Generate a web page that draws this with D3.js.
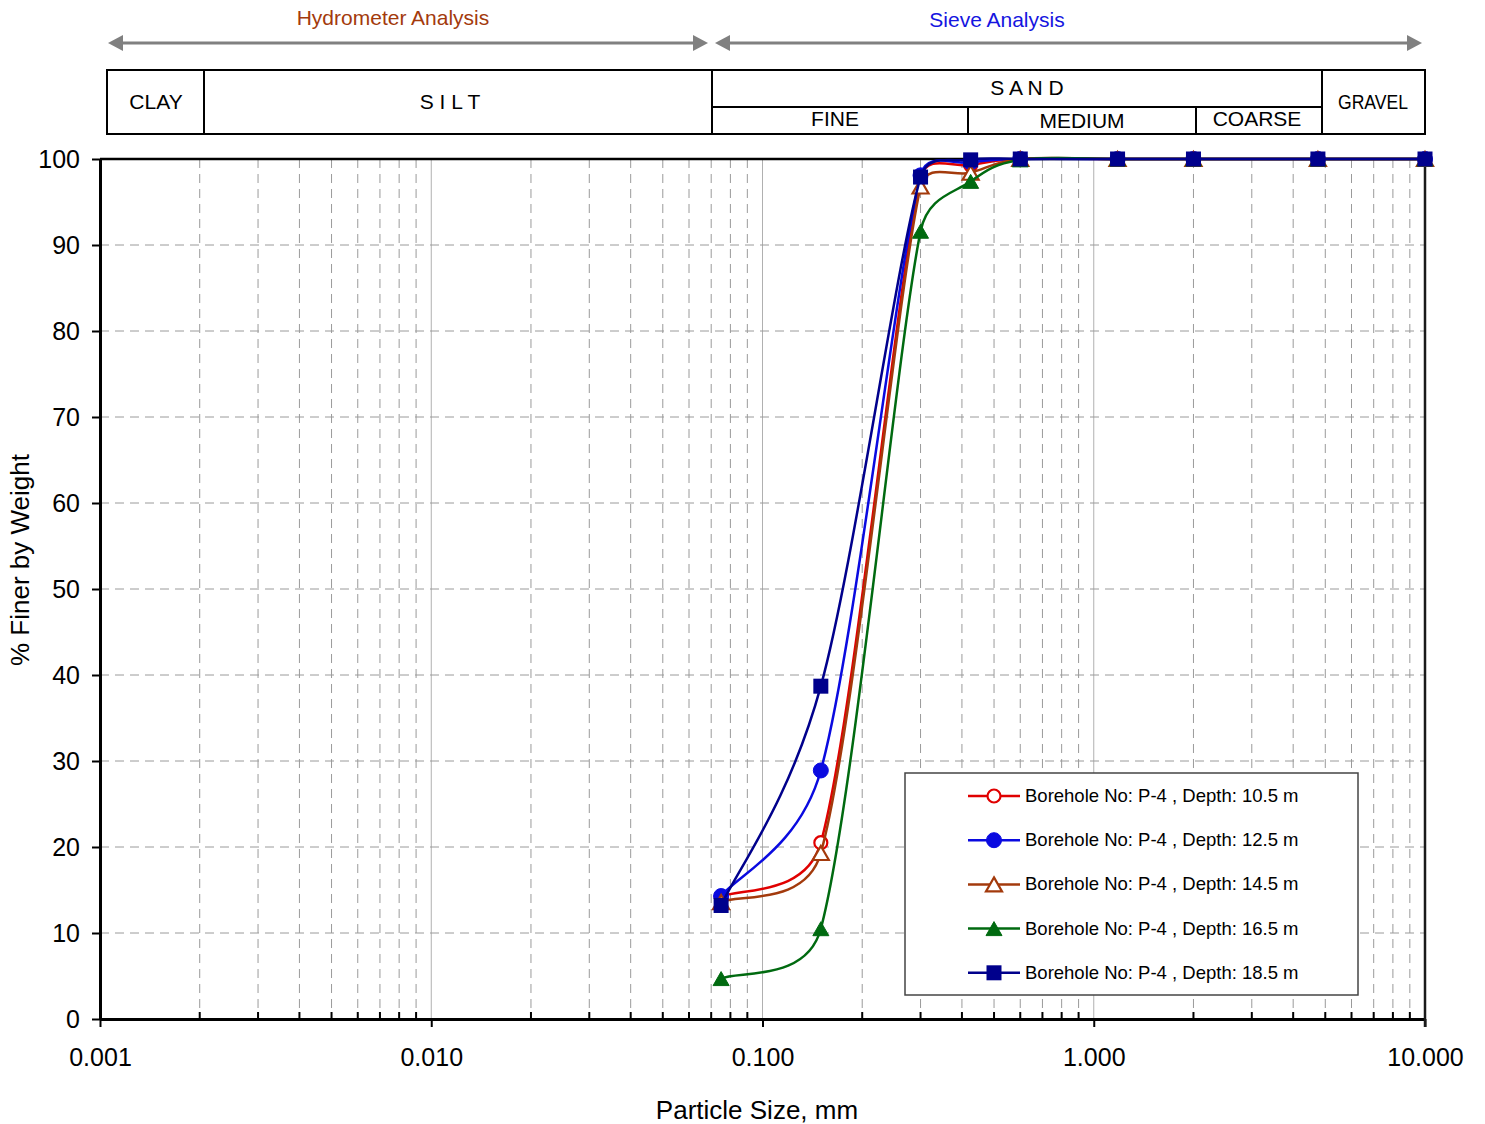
<!DOCTYPE html>
<html><head><meta charset="utf-8">
<script src="https://cdn.jsdelivr.net/npm/d3@7"></script>
<style>
body{margin:0;background:#fff;}
text{font-family:"Liberation Sans",Arial,sans-serif;}
</style></head>
<body><svg id="c" width="1485" height="1124"></svg>
<script>
// ---- data ----
const sizes = [0.075, 0.15, 0.3, 0.425, 0.6, 1.18, 2.0, 4.75, 10.0];
const depth105 = [14.2, 20.5, 97.8, 99.3, 100, 100, 100, 100, 100];
const depth125 = [14.3, 28.9, 98.1, 99.6, 100, 100, 100, 100, 100];
const depth145 = [13.6, 19.3, 96.8, 98.4, 100, 100, 100, 100, 100];
const depth165 = [4.7, 10.5, 91.6, 97.4, 99.9, 100, 100, 100, 100];
const depth185 = [13.2, 38.7, 97.9, 99.9, 100, 100, 100, 100, 100];
const seriesNames = ["Borehole No: P-4 , Depth: 10.5 m","Borehole No: P-4 , Depth: 12.5 m","Borehole No: P-4 , Depth: 14.5 m","Borehole No: P-4 , Depth: 16.5 m","Borehole No: P-4 , Depth: 18.5 m"];
const xTickValues = [0.001, 0.01, 0.1, 1, 10];
const yTickValues = [0,10,20,30,40,50,60,70,80,90,100];

const svg = d3.select("#c");
const M = {l:100, r:1425, t:159, b:1019};
const x = d3.scaleLog().domain([0.001,10]).range([M.l,M.r]);
const y = d3.scaleLinear().domain([0,100]).range([M.b,M.t]);

// ---- grid ----
const minor = [];
for (let e=-3;e<1;e++) for (let k=2;k<=9;k++) minor.push(k*Math.pow(10,e));
const g = svg.append("g");
g.selectAll(".vminor").data(minor).enter().append("line")
  .attr("x1",d=>x(d)).attr("x2",d=>x(d)).attr("y1",M.t).attr("y2",M.b)
  .attr("stroke","#9a9a9a").attr("stroke-width",1).attr("stroke-dasharray","9,6");
g.selectAll(".vmajor").data([0.01,0.1,1]).enter().append("line")
  .attr("x1",d=>x(d)).attr("x2",d=>x(d)).attr("y1",M.t).attr("y2",M.b)
  .attr("stroke","#b0b0b0").attr("stroke-width",1);
g.selectAll(".hgrid").data(yTickValues.slice(1,10)).enter().append("line")
  .attr("x1",M.l).attr("x2",M.r).attr("y1",d=>y(d)).attr("y2",d=>y(d))
  .attr("stroke","#9a9a9a").attr("stroke-width",1).attr("stroke-dasharray","9,6");

// ---- axes ----
const xAxis = d3.axisBottom(x).tickValues(xTickValues).tickFormat(d3.format(".3f")).tickSize(8).tickSizeOuter(0);
const xa = svg.append("g").attr("transform",`translate(0,${M.b})`).call(xAxis);
xa.select(".domain").attr("stroke","#000").attr("stroke-width",3);
xa.selectAll(".tick line").attr("stroke","#000").attr("stroke-width",2);
xa.selectAll(".tick text").attr("font-size",25).attr("fill","#000").attr("dy","1.45em")
  .style("font-family","'Liberation Sans',Arial,sans-serif");
svg.append("g").selectAll("line").data(minor).enter().append("line")
  .attr("x1",d=>x(d)).attr("x2",d=>x(d)).attr("y1",M.b).attr("y2",M.b-7)
  .attr("stroke","#000").attr("stroke-width",2);

const yAxis = d3.axisLeft(y).tickValues(yTickValues).tickSize(8).tickSizeOuter(0).tickPadding(12);
const ya = svg.append("g").attr("transform",`translate(${M.l},0)`).call(yAxis);
ya.select(".domain").attr("stroke","#000").attr("stroke-width",3);
ya.selectAll(".tick line").attr("stroke","#000").attr("stroke-width",2);
ya.selectAll(".tick text").attr("font-size",25).attr("fill","#000")
  .style("font-family","'Liberation Sans',Arial,sans-serif");
svg.append("line").attr("x1",M.l).attr("x2",M.r).attr("y1",M.t).attr("y2",M.t).attr("stroke","#000").attr("stroke-width",2.5);
svg.append("line").attr("x1",M.r).attr("x2",M.r).attr("y1",M.t).attr("y2",M.b+8).attr("stroke","#1a1a1a").attr("stroke-width",2.5);

svg.append("text").attr("x",757).attr("y",1119).attr("text-anchor","middle").attr("font-size",26).text("Particle Size, mm");
svg.append("text").attr("transform","translate(29,560) rotate(-90)").attr("text-anchor","middle").attr("font-size",26).text("% Finer by Weight");

// ---- header ----
const H = svg.append("g");
function arrow(x1,x2,yy){
  H.append("line").attr("x1",x1+12).attr("x2",x2-12).attr("y1",yy).attr("y2",yy).attr("stroke","#808080").attr("stroke-width",3);
  H.append("path").attr("d",`M${x1},${yy}L${x1+15},${yy-8}L${x1+15},${yy+8}Z`).attr("fill","#808080");
  H.append("path").attr("d",`M${x2},${yy}L${x2-15},${yy-8}L${x2-15},${yy+8}Z`).attr("fill","#808080");
}
arrow(108,708,43);
arrow(715,1422,43);
H.append("text").attr("x",393).attr("y",25).attr("text-anchor","middle").attr("font-size",21).attr("fill","#a33a0c").text("Hydrometer Analysis");
H.append("text").attr("x",997).attr("y",27).attr("text-anchor","middle").attr("font-size",21).attr("fill","#1515e0").text("Sieve Analysis");
H.append("rect").attr("x",107).attr("y",70).attr("width",1318).attr("height",64).attr("fill","none").attr("stroke","#000").attr("stroke-width",2);
[[204,70,134],[712,70,134],[1322,70,134],[968,107,134],[1196,107,134]].forEach(d=>{
  H.append("line").attr("x1",d[0]).attr("x2",d[0]).attr("y1",d[1]).attr("y2",d[2]).attr("stroke","#000").attr("stroke-width",2);
});
H.append("line").attr("x1",712).attr("x2",1322).attr("y1",107).attr("y2",107).attr("stroke","#000").attr("stroke-width",2);
const hl = [["CLAY",156,109,null],["S I L T",450,109,null],["S A N D",1027,95,null],["FINE",835,126,null],["MEDIUM",1082,128,null],["COARSE",1257,126,null],["GRAVEL",1373,109,70]];
hl.forEach(d=>{
  const t = H.append("text").attr("x",d[1]).attr("y",d[2]).attr("text-anchor","middle").attr("font-size",21).attr("fill","#000").text(d[0]);
  if (d[3]) t.attr("textLength",d[3]).attr("lengthAdjust","spacingAndGlyphs");
});

// ---- series ----
const series = [
  {name:seriesNames[0], vals:depth105, color:"#e00000", shape:"circle", fill:"#fff"},
  {name:seriesNames[1], vals:depth125, color:"#0a0ae0", shape:"circle", fill:"#0a0ae0"},
  {name:seriesNames[2], vals:depth145, color:"#a33a0c", shape:"triangle", fill:"#fff"},
  {name:seriesNames[3], vals:depth165, color:"#006a10", shape:"triangle", fill:"#006a10"},
  {name:seriesNames[4], vals:depth185, color:"#00008c", shape:"square", fill:"#00008c"}
];
// spreadsheet-style smoothed line (Bezier with clamped control lengths), in pixel space
function smoothPath(P){
  const p = d3.path();
  const dist=(a,b)=>Math.hypot(b[0]-a[0],b[1]-a[1]);
  p.moveTo(P[0][0],P[0][1]);
  for (let i=0;i<P.length-1;i++){
    const p0 = P[Math.max(i-1,0)], p1=P[i], p2=P[i+1], p3=P[Math.min(i+2,P.length-1)];
    const d12 = dist(p1,p2);
    const d02 = dist(p0,p2), d13 = dist(p1,p3);
    let f0 = 1/6, f1 = 1/6;
    if (d02/6 > d12/2 && d02>0) f0 = (d12/2)/d02;
    if (d13/6 > d12/2 && d13>0) f1 = (d12/2)/d13;
    const c1 = [p1[0]+(p2[0]-p0[0])*f0, p1[1]+(p2[1]-p0[1])*f0];
    const c2 = [p2[0]-(p3[0]-p1[0])*f1, p2[1]-(p3[1]-p1[1])*f1];
    p.bezierCurveTo(c1[0],c1[1],c2[0],c2[1],p2[0],p2[1]);
  }
  return p.toString();
}
function marker(sel, s, cx, cy){
  if (s.shape==="circle"){
    sel.append("circle").attr("cx",cx).attr("cy",cy).attr("r",s.fill==="#fff"?6.5:7.5)
      .attr("fill",s.fill).attr("stroke",s.color).attr("stroke-width",s.fill==="#fff"?2.2:1);
  } else if (s.shape==="triangle"){
    sel.append("path").attr("d",`M${cx},${cy-7}L${cx+8},${cy+7}L${cx-8},${cy+7}Z`)
      .attr("fill",s.fill).attr("stroke",s.color).attr("stroke-width",s.fill==="#fff"?2.2:1);
  } else {
    sel.append("rect").attr("x",cx-7.5).attr("y",cy-7.5).attr("width",15).attr("height",15).attr("fill",s.fill);
  }
}
series.forEach(s=>{
  const px = sizes.map((v,i)=>[x(v), y(s.vals[i])]);
  const gs = svg.append("g");
  gs.append("path").attr("d",smoothPath(px)).attr("fill","none").attr("stroke",s.color).attr("stroke-width",2.5);
  px.forEach(p=>marker(gs,s,p[0],p[1]));
});

// ---- legend ----
const L = svg.append("g");
L.append("rect").attr("x",905).attr("y",773).attr("width",453).attr("height",222).attr("fill","#fff").attr("stroke","#444").attr("stroke-width",1.5);
series.forEach((s,i)=>{
  const yy = 796 + i*44.2;
  L.append("line").attr("x1",968).attr("x2",1020).attr("y1",yy).attr("y2",yy).attr("stroke",s.color).attr("stroke-width",2.5);
  marker(L,s,994,yy);
  L.append("text").attr("x",1025).attr("y",yy+6).attr("font-size",18.5).attr("fill","#000").text(s.name);
});
</script></body></html>
